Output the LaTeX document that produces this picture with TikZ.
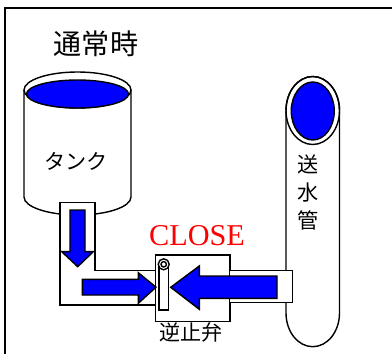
\documentclass[tikz,border=0pt]{standalone}
\usepackage{fontspec}
\setmainfont{Liberation Serif}
\newfontfamily\jp{Noto Sans CJK JP}
\usetikzlibrary{positioning}

\tikzset{
	line/.style={draw=black,line width=1pt},
	flow/.style={line,fill=blue},
	label/.style={font=\jp\fontsize{15}{20}\selectfont,inner sep=0pt},
}

\begin{document}
\begin{tikzpicture}[x=0.025cm,y=-0.025cm]
		\useasboundingbox (0,0) rectangle (392,353);
		\clip (0,0) rectangle (392,353);
		\fill[white] (0,0) rectangle (392,353);

		% Outer frame
		\draw[line width=1.3pt] (5,380) -- (5,8) -- (420,8);
		\node[label,font=\jp\fontsize{20}{24}\selectfont] (title) at (96,44) {通常時};

		% Tank
		\begin{scope}
			\draw[line,fill=white] (24,90) -- (24,197)
				arc[start angle=180,end angle=0,x radius=53.5,y radius=18] -- (131,90);
			\draw[line,fill=white] (77.5,90) ellipse[x radius=53.5,y radius=18];
			\draw[flow] (77.5,94) ellipse[x radius=51,y radius=14];
			\node[label] (tank) at (76,161) {タンク};
		\end{scope}

		% Water main
		\begin{scope}
			\draw[line,fill=white] (286,110.5) -- (286,313)
				arc[start angle=180,end angle=0,x radius=26.75,y radius=33.7]
				-- (339.5,110.5)
				arc[start angle=0,end angle=-180,x radius=26.75,y radius=34] -- cycle;
			\draw[line] (312.75,110.5) ellipse[x radius=26.75,y radius=34];
			\draw[flow] (312.75,111) ellipse[x radius=21.5,y radius=29];
			\node[label,align=center] (main) at (308.5,192.5) {送\\水\\管};
		\end{scope}

		% Elbow pipe from the tank
		\draw[line,fill=white] (60,202.3) -- (95,202.3) -- (95,270.7) -- (156,270.7)
			-- (156,305) -- (60,305) -- cycle;

		% Check valve
		\begin{scope}
			\draw[line,fill=white] (155.7,255) rectangle (230,321.7);
			\draw[line,fill=white] (230,270.7) -- (292.7,270.7) -- (292.7,302.5) -- (230,302.5);
			\draw[line,fill=white] (159,264.3) rectangle (168.3,310);
			\draw[line,fill=white] (163.7,264.3) circle[radius=5.5];
			\draw[line] (163.7,264.3) circle[radius=2.7];
			\node[label] (valve) at (191,332) {逆止弁};
			\node[text=red,font=\fontsize{21.5}{24}\selectfont,inner sep=0pt] (state) at (197,235.5) {CLOSE};
		\end{scope}

		% Flow arrows
		\draw[flow] (70,210) -- (85,210) -- (85,251.7) -- (93.3,251.7) -- (77.7,266.7)
			-- (61.7,251.7) -- (70,251.7) -- cycle;
		\draw[flow] (82.3,279.3) -- (138.3,279.3) -- (138.3,272.7) -- (156,287.2)
			-- (138.3,303.3) -- (138.3,295) -- (82.3,295) -- cycle;
		\draw[flow] (170.7,287.3) -- (199.3,266) -- (199.3,276) -- (277,276)
			-- (277,298.3) -- (199.3,298.3) -- (199.3,309.3) -- cycle;
	\end{tikzpicture}
\end{document}
